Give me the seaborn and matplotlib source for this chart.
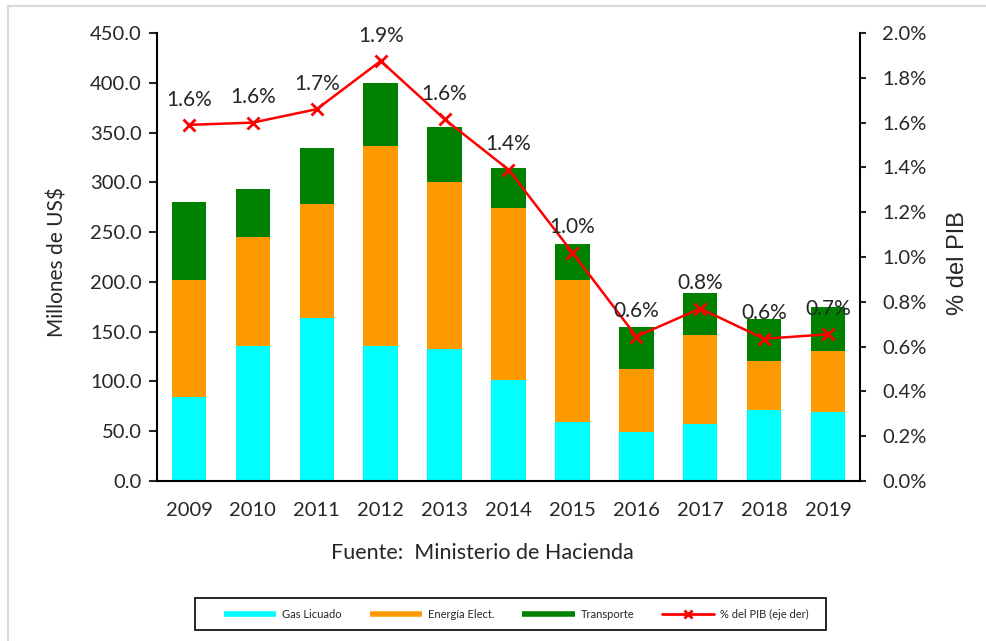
import numpy as np
import seaborn as sns
import matplotlib.pyplot as plt
from matplotlib.lines import Line2D
from matplotlib.patches import Rectangle

# data
years = ['2009', '2010', '2011', '2012', '2013', '2014', '2015', '2016', '2017', '2018', '2019']
gas_licuado = [84, 136, 164, 136, 133, 101, 59, 49, 57, 71, 69]
energia = [118, 109, 114, 200, 167, 173, 143, 64, 90, 50, 62]
transporte = [78, 48, 56, 64, 56, 40, 36, 42, 42, 42, 44]
pib_pct = [1.59, 1.60, 1.66, 1.875, 1.615, 1.39, 1.02, 0.645, 0.77, 0.635, 0.655]

c_gas = '#00FFFF'
c_ene = '#FF9900'
c_tra = '#008000'
c_pib = '#FF0000'

sns.set_style('white')
plt.rcParams['font.family'] = ['Lato', 'DejaVu Sans']

fig = plt.figure(figsize=(9.87, 6.41), dpi=100)
ax = fig.add_axes([157 / 987, 1 - 481 / 641, 703 / 987, 448 / 641])

# stacked bars: draw cumulative totals from the top down
tot_ene = np.array(gas_licuado) + np.array(energia)
tot_all = tot_ene + np.array(transporte)
sns.barplot(x=years, y=tot_all, color=c_tra, saturation=1, width=0.54, ax=ax, linewidth=0)
sns.barplot(x=years, y=tot_ene, color=c_ene, saturation=1, width=0.54, ax=ax, linewidth=0)
sns.barplot(x=years, y=gas_licuado, color=c_gas, saturation=1, width=0.54, ax=ax, linewidth=0)

ax.set_ylim(0, 450)
ax.set_xlim(-0.5, len(years) - 0.5)
ax.set_yticks(np.arange(0, 451, 50))
ax.set_yticklabels([f'{v:.1f}' for v in np.arange(0, 451, 50)])
ax.tick_params(axis='y', direction='out', length=6, width=1.5, pad=5, labelsize=14.5, left=True)
ax.tick_params(axis='x', length=0, pad=15, labelsize=14.5)
for s in ['top', 'right']:
    ax.spines[s].set_visible(False)
for s in ['left', 'bottom']:
    ax.spines[s].set_linewidth(1.5)
    ax.spines[s].set_color('black')
ax.set_xlabel('')
ax.set_ylabel('')

# % del PIB on the right axis
ax2 = ax.twinx()
sns.lineplot(x=np.arange(len(years)), y=pib_pct, ax=ax2, color=c_pib, linewidth=1.8,
             marker='x', markersize=8, markeredgewidth=2, markeredgecolor=c_pib)
ax2.set_ylim(0, 2.0)
ax2.set_yticks(np.arange(0, 2.01, 0.2))
ax2.set_yticklabels([f'{v:.1f}%' for v in np.arange(0, 2.01, 0.2)])
ax2.tick_params(axis='y', direction='out', length=4, width=1.5, pad=12, labelsize=14.5, right=True)
for s in ['top', 'left', 'bottom']:
    ax2.spines[s].set_visible(False)
ax2.spines['right'].set_linewidth(1.5)
ax2.spines['right'].set_color('black')
ax2.set_xlabel('')
ax2.set_ylabel('')

for i, v in enumerate(pib_pct):
    ax2.annotate(f'{v:.1f}%', (i, v), xytext=(0, 11), textcoords='offset points',
                 ha='center', va='bottom', fontsize=15)

fig.text(58 / 987, 1 - 262 / 641, 'Millones de US$', rotation=90, ha='center', va='center', fontsize=15)
fig.text(958 / 987, 1 - 263 / 641, '% del PIB', rotation=90, ha='center', va='center', fontsize=17,
         family=['Liberation Sans', 'DejaVu Sans'])
fig.text(482 / 987, 1 - 553 / 641, 'Fuente:  Ministerio de Hacienda', ha='center', va='center', fontsize=15.5)

# legend box spans a fixed area, entries sit on the left part of it
fig.add_artist(Rectangle((195 / 987, 1 - 630 / 641), 631 / 987, 32 / 641, transform=fig.transFigure,
                         fill=False, edgecolor='black', lw=1.2))
handles = [
    Line2D([], [], color=c_gas, lw=4, solid_capstyle='butt'),
    Line2D([], [], color=c_ene, lw=4, solid_capstyle='butt'),
    Line2D([], [], color=c_tra, lw=4, solid_capstyle='butt'),
    Line2D([], [], color=c_pib, lw=2, marker='x', markersize=6, markeredgewidth=2),
]
labels = ['Gas Licuado', 'Energía Elect.', 'Transporte', '% del PIB (eje der)']
fig.legend(handles, labels, loc='center left', ncol=4,
           bbox_to_anchor=(224 / 987, 1 - 614 / 641), bbox_transform=fig.transFigure,
           fontsize=8, handlelength=4.7, handletextpad=0.55, columnspacing=2.5,
           borderaxespad=0, borderpad=0, frameon=False)

# light gray outer chart border (top and left visible)
fig.add_artist(Line2D([8 / 987, 1], [1 - 5.5 / 641, 1 - 5.5 / 641], transform=fig.transFigure,
                      color='#D9D9D9', lw=1.5))
fig.add_artist(Line2D([8 / 987, 8 / 987], [0, 1 - 5.5 / 641], transform=fig.transFigure,
                      color='#D9D9D9', lw=1.5))

fig.savefig('out.png', dpi=100)
